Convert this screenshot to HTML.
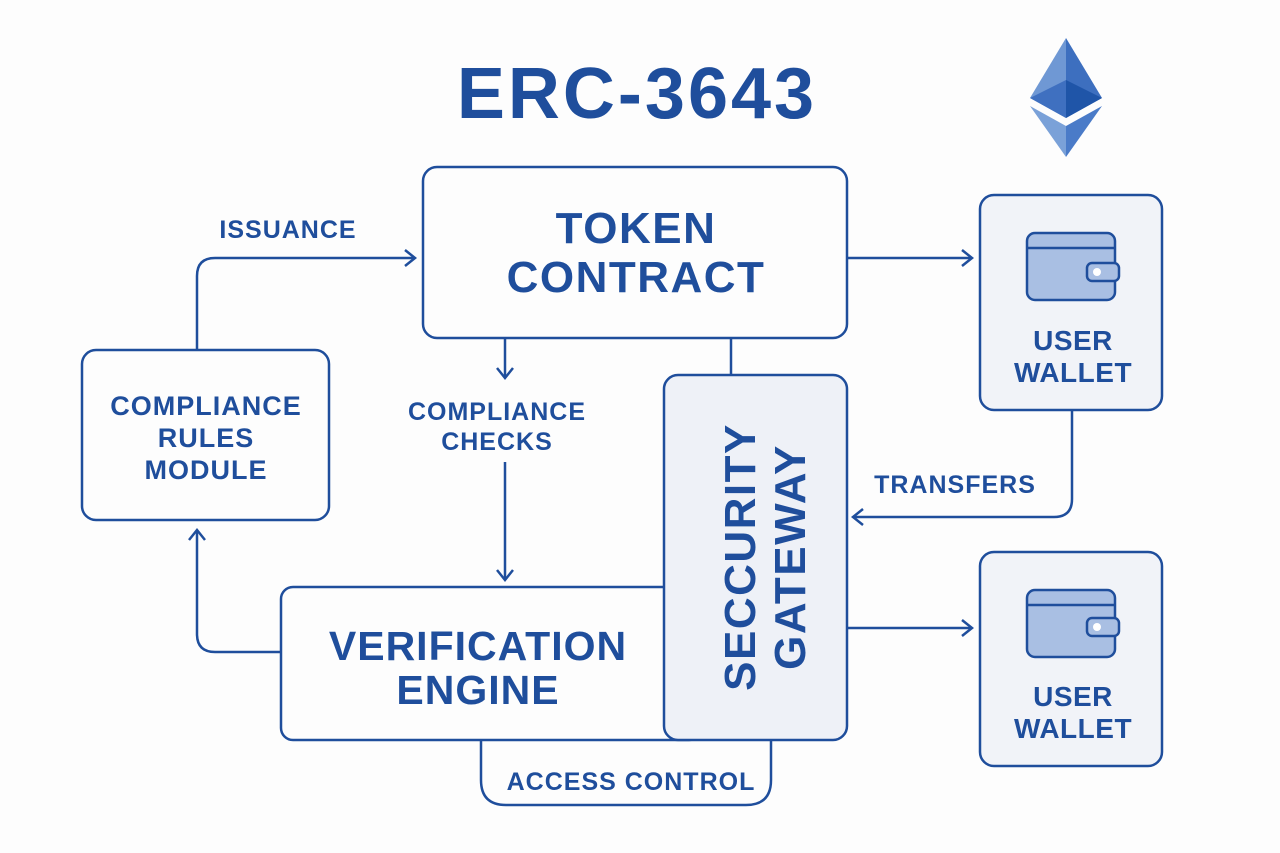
<!DOCTYPE html>
<html><head><style>
html,body{margin:0;padding:0;background:#fdfdfd;}
svg{display:block;}
text{font-family:"Liberation Sans","DejaVu Sans",sans-serif;fill:#1f4e9c;text-anchor:middle;}
</style></head><body>
<svg width="1280" height="853" viewBox="0 0 1280 853">
<rect width="1280" height="853" fill="#fdfdfd"/>
<text x="637" y="118" font-size="72" font-weight="bold" letter-spacing="3">ERC-3643</text>
<polygon points="1066,38 1030,98 1066,118" fill="#6f98d4"/>
<polygon points="1066,38 1102,98 1066,118" fill="#3d6fbf"/>
<polygon points="1030,98 1066,80 1066,118" fill="#3f70c0"/>
<polygon points="1102,98 1066,80 1066,118" fill="#1f55a8"/>
<polygon points="1030,106 1066,126 1066,157" fill="#7aa1d8"/>
<polygon points="1102,106 1066,126 1066,157" fill="#4a7bc8"/>
<g fill="none" stroke="#1f4e9c" stroke-width="2.5">
<rect x="423" y="167" width="424" height="171" rx="14" fill="#fdfdfd"/>
<rect x="980" y="195" width="182" height="215" rx="14" fill="#f1f3f8"/>
<rect x="980" y="552" width="182" height="214" rx="14" fill="#f1f3f8"/>
<rect x="82" y="350" width="247" height="170" rx="14" fill="#fdfdfd"/>
<path d="M481,740 V780 Q481,805 506,805 H746 Q771,805 771,780 V740"/>
<rect x="281" y="587" width="420" height="153" rx="12" fill="#fdfdfd"/>
<rect x="664" y="375" width="183" height="365" rx="14" fill="#eef1f7"/>
<path d="M197,350 V276 Q197,258 215,258 H415"/>
<path d="M405,250 L415,258 L405,266"/>
<path d="M847,258 H972"/>
<path d="M962,250 L972,258 L962,266"/>
<path d="M505,338 V378"/>
<path d="M497,368 L505,378 L513,368"/>
<path d="M505,462 V580"/>
<path d="M497,570 L505,580 L513,570"/>
<path d="M731,338 V375"/>
<path d="M1072,410 V499 Q1072,517 1054,517 H853"/>
<path d="M863,509 L853,517 L863,525"/>
<path d="M847,628 H972"/>
<path d="M962,620 L972,628 L962,636"/>
<path d="M281,652 H215 Q197,652 197,634 V530"/>
<path d="M189,540 L197,530 L205,540"/>
</g>
<g stroke="#1f4e9c" stroke-width="2.5">
<rect x="1027" y="233" width="88" height="67" rx="8" fill="#a9bfe3"/>
<path d="M1027,248 H1115" fill="none"/>
<rect x="1087" y="263" width="32" height="18" rx="5" fill="#a9bfe3"/>
<rect x="1027" y="590" width="88" height="67" rx="8" fill="#a9bfe3"/>
<path d="M1027,605 H1115" fill="none"/>
<rect x="1087" y="618" width="32" height="18" rx="5" fill="#a9bfe3"/>
</g>
<circle cx="1097" cy="272" r="4" fill="#fff"/>
<circle cx="1097" cy="627" r="4" fill="#fff"/>
<text x="636" y="243" font-size="44" font-weight="bold" letter-spacing="1.5">TOKEN</text>
<text x="636" y="292" font-size="44" font-weight="bold" letter-spacing="1.5">CONTRACT</text>
<text x="1073" y="350" font-size="28" font-weight="bold" letter-spacing="0.5">USER</text>
<text x="1073" y="382" font-size="28" font-weight="bold" letter-spacing="0.5">WALLET</text>
<text x="1073" y="706" font-size="28" font-weight="bold" letter-spacing="0.5">USER</text>
<text x="1073" y="738" font-size="28" font-weight="bold" letter-spacing="0.5">WALLET</text>
<text x="206" y="415" font-size="27" font-weight="bold" letter-spacing="1">COMPLIANCE</text>
<text x="206" y="447" font-size="27" font-weight="bold" letter-spacing="1">RULES</text>
<text x="206" y="479" font-size="27" font-weight="bold" letter-spacing="1">MODULE</text>
<text x="478" y="660" font-size="41" font-weight="bold" letter-spacing="1">VERIFICATION</text>
<text x="478" y="704" font-size="41" font-weight="bold" letter-spacing="1">ENGINE</text>
<text x="631" y="790" font-size="25" font-weight="bold" letter-spacing="1">ACCESS CONTROL</text>
<text x="288" y="238" font-size="25" font-weight="bold" letter-spacing="1">ISSUANCE</text>
<text x="497" y="420" font-size="25" font-weight="bold" letter-spacing="1">COMPLIANCE</text>
<text x="497" y="450" font-size="25" font-weight="bold" letter-spacing="1">CHECKS</text>
<text x="955" y="493" font-size="25" font-weight="bold" letter-spacing="1">TRANSFERS</text>
<g transform="translate(755,557) rotate(-90)">
<text x="0" y="0" font-size="44" font-weight="bold" letter-spacing="1.5">SECCURITY</text>
<text x="0" y="50" font-size="44" font-weight="bold" letter-spacing="1.5">GATEWAY</text>
</g>
</svg>
</body></html>
